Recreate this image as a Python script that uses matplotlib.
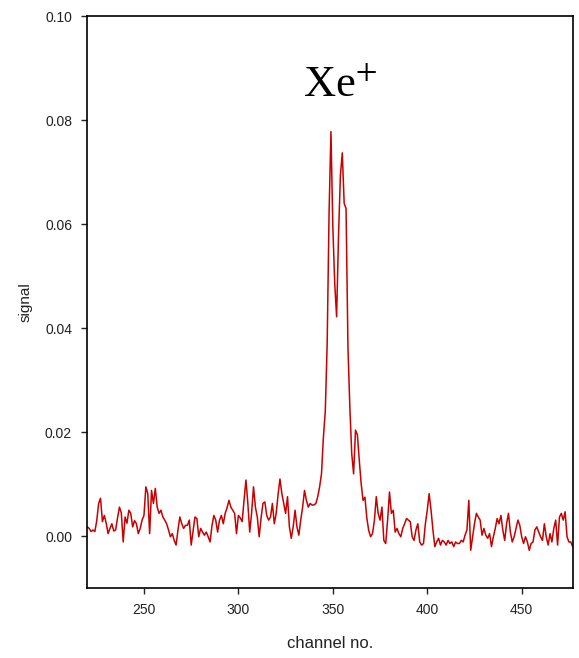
import numpy as np
import matplotlib
matplotlib.use('Agg')
import matplotlib.pyplot as plt

# signal per channel, in units of 1e-3, channels 220..477
first_channel = 220
signal_milli = [
    1.8, 1.5, 0.9, 1.2, 0.9, 3.0, 6.3, 7.3, 2.8, 4.0,
    2.5, 0.5, 1.5, 2.4, 1.0, 1.2, 3.5, 5.6, 4.5, -1.1,
    3.7, 2.5, 5.0, 4.4, 1.8, 3.0, 2.4, 0.5, 1.5, 3.1,
    4.0, 9.5, 8.2, 0.5, 8.8, 6.3, 9.2, 5.6, 4.4, 5.0,
    3.7, 3.1, 2.4, 1.2, -0.1, 0.5, -0.8, -1.7, 1.2, 3.7,
    2.4, 1.5, 2.1, 2.1, 3.1, -1.7, 1.0, 3.7, 3.4, -0.1,
    1.5, 0.8, 0.2, 0.8, -0.1, -1.1, 2.0, 4.0, 3.1, 0.8,
    3.1, 4.0, 2.4, 4.4, 5.5, 6.9, 5.6, 5.0, 4.4, 0.5,
    4.0, 3.5, 2.8, 7.0, 10.8, 6.3, 0.8, 4.5, 9.5, 5.6,
    3.7, -0.1, 3.5, 6.3, 6.6, 4.0, 3.1, 3.7, 6.3, 2.4,
    4.4, 8.0, 11.0, 8.2, 6.3, 4.4, 7.6, 1.8, -0.4, 1.8,
    5.0, 1.8, 0.2, 3.1, 5.6, 8.8, 6.9, 5.6, 6.3, 6.0,
    6.0, 6.3, 7.6, 9.5, 12.0, 19.0, 24.0, 37.0, 62.0, 77.8,
    59.5, 48.6, 42.2, 57.6, 69.4, 73.7, 64.0, 63.0, 36.4, 24.9,
    15.9, 12.0, 20.4, 19.5, 14.6, 10.1, 6.9, 7.5, 3.5, 1.1,
    -0.1, 0.5, 3.0, 7.6, 4.4, 3.1, 5.6, -0.8, -1.4, 3.1,
    8.5, 4.4, 5.0, 0.8, 1.5, 0.5, -0.1, 1.5, 2.4, 3.4,
    3.1, 2.8, -0.1, -0.8, 1.2, 2.4, -1.1, -1.7, -1.4, 2.4,
    5.0, 8.2, 5.0, 1.2, -2.0, -1.1, -0.4, -1.7, -0.8, -1.1,
    -1.7, -0.8, -1.4, -1.1, -2.0, -1.1, -1.4, -1.4, -0.8, -1.1,
    0.2, 1.2, 6.9, -2.7, -0.1, 2.4, 4.4, 3.7, 3.1, 0.2,
    1.5, 0.2, -0.4, 0.5, -2.0, -0.1, 1.5, 3.4, 2.4, 4.0,
    1.2, -0.8, 2.4, 4.4, 0.8, -1.1, -0.1, 1.5, 3.1, 2.1,
    -0.1, -1.4, -0.1, -1.1, -2.7, -1.4, -1.1, 1.2, 1.8, 0.8,
    -0.1, -0.8, 2.4, -0.1, -1.7, 0.5, -1.1, 1.5, 3.1, -1.7,
    3.7, 4.4, 3.1, 4.7, -0.1, -1.1, -1.1, -2.0,
]
x_ticks = [250, 300, 350, 400, 450]
y_ticks = [0.00, 0.02, 0.04, 0.06, 0.08, 0.10]
peak_label = 'Xe$^{+}$'

channels = np.arange(first_channel, first_channel + len(signal_milli))
signal = np.array(signal_milli) * 1e-3

plt.rcParams['font.family'] = ['Liberation Sans', 'DejaVu Sans']
plt.rcParams['mathtext.fontset'] = 'stix'

fig = plt.figure(figsize=(5.79, 6.58), dpi=100)
ax = fig.add_axes([0.1508, 0.1068, 0.8383, 0.8688])

ax.plot(channels, signal, color='#c80000', lw=1.1)

ax.set_xlim(220, 477)
ax.set_ylim(-0.0099, 0.10)
ax.set_xticks(x_ticks)
ax.set_yticks(y_ticks)
ax.set_yticklabels(['%.2f' % v for v in y_ticks])
ax.tick_params(direction='out', length=4, width=1, pad=7, labelsize=10, colors='#222222')
for sp in ax.spines.values():
    sp.set_linewidth(1.2)

ax.set_xlabel('channel no.', fontsize=12, labelpad=14, color='#222222')
ax.set_ylabel('signal', fontsize=11, labelpad=9, color='#222222')

ax.text(354, 0.0865, peak_label, fontsize=32, family='Liberation Serif',
        ha='center', va='center')

fig.savefig('out.png', dpi=100)
